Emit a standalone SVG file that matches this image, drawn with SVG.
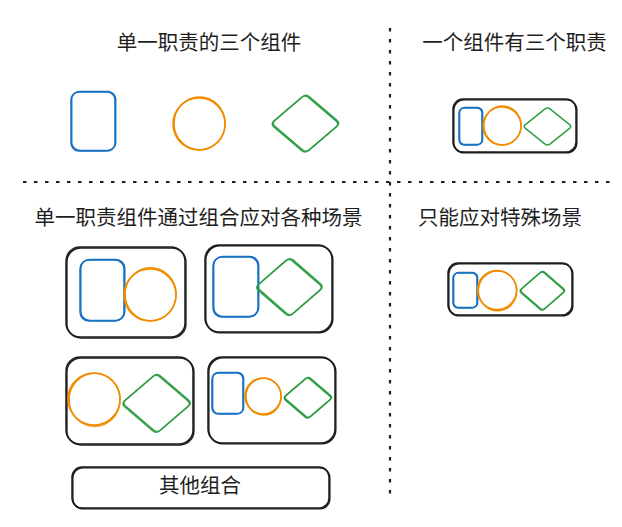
<svg xmlns="http://www.w3.org/2000/svg" xmlns:xlink="http://www.w3.org/1999/xlink" width="622" height="527" viewBox="0 0 622 527">
<style>
.k{fill:none;stroke:#1e1e1e;stroke-width:1.5;stroke-linejoin:round}
.b{fill:none;stroke:#1971c2;stroke-width:1.5;stroke-linejoin:round}
.o{fill:none;stroke:#f08c00;stroke-width:1.5}
.g{fill:none;stroke:#2f9e44;stroke-width:1.5;stroke-linejoin:round}
.t{font-family:"Noto Sans CJK SC","Noto Sans",sans-serif;font-size:20.5px;fill:#1e1e1e;text-anchor:middle}
.d{fill:none;stroke:#1e1e1e;stroke-width:2.2;stroke-dasharray:3.5 7.5}
</style>
<rect width="622" height="527" fill="#ffffff"/>
<g id="connectors">
<line class="d" x1="23" y1="182" x2="610" y2="182"/>
<line class="d" x1="390" y1="28" x2="390" y2="500"/>
</g>
<g id="labels">
<text class="t" x="209" y="50">单一职责的三个组件</text>
<text class="t" x="514.5" y="50">一个组件有三个职责</text>
<text class="t" x="198.5" y="225">单一职责组件通过组合应对各种场景</text>
<text class="t" x="500" y="225">只能应对特殊场景</text>
</g>
<g id="single-blue">
<rect id="s1" class="b" x="71" y="92" width="44" height="59" rx="8"/>
<use xlink:href="#s1" transform="translate(0.7 -0.6)"/>
</g>
<g id="single-orange">
<circle class="o" cx="199" cy="124" r="26"/>
<ellipse class="o" cx="199.6" cy="123.4" rx="25.6" ry="26.4"/>
</g>
<g id="single-green">
<path id="s3" class="g" d="M308.45,97.45 L336.05,121.05 Q339.5,124 336.05,126.95 L308.45,150.55 Q305,153.5 301.55,150.55 L273.95,126.95 Q270.5,124 273.95,121.05 L301.55,97.45 Q305,94.5 308.45,97.45Z"/>
<use xlink:href="#s3" transform="translate(0.9 -0.7)"/>
</g>
<g id="combined-all">
<rect id="c1" class="k" x="453" y="99" width="123" height="53" rx="10"/>
<use xlink:href="#c1" transform="translate(0.8 0.8)"/>
<rect id="c2" class="b" x="459" y="108" width="23" height="37" rx="5"/>
<use xlink:href="#c2" transform="translate(0.6 -0.5)"/>
<circle class="o" cx="502" cy="126" r="19"/>
<ellipse class="o" cx="502.5" cy="125.5" rx="18.6" ry="19.4"/>
<path class="g" d="M549.95,108.95 L569.55,124.55 Q572,126.5 569.55,128.45 L549.95,144.05 Q547.5,146 545.05,144.05 L525.45,128.45 Q523,126.5 525.45,124.55 L545.05,108.95 Q547.5,107 549.95,108.95Z"/>
</g>
<g id="special-only">
<rect id="p1" class="k" x="448" y="263" width="124" height="52" rx="10"/>
<use xlink:href="#p1" transform="translate(0.8 0.8)"/>
<rect id="p2" class="b" x="453" y="273" width="24" height="35" rx="5"/>
<use xlink:href="#p2" transform="translate(0.6 -0.5)"/>
<circle class="o" cx="497" cy="290" r="19.5"/>
<ellipse class="o" cx="497.6" cy="290.8" rx="19.2" ry="19.9"/>
<path id="p3" class="g" d="M544.3,273 L562.7,289 Q565,291 562.7,293 L544.3,309 Q542,311 539.7,309 L521.3,293 Q519,291 521.3,289 L539.7,273 Q542,271 544.3,273Z"/>
<use xlink:href="#p3" transform="translate(0.7 -0.5)"/>
</g>
<g id="combo-blue-orange">
<rect id="a1" class="k" x="66" y="247" width="119" height="90" rx="14"/>
<use xlink:href="#a1" transform="translate(0.9 0.9)"/>
<rect id="a2" class="b" x="80" y="260" width="44" height="61" rx="9"/>
<use xlink:href="#a2" transform="translate(0.8 -0.6)"/>
<circle class="o" cx="150" cy="295" r="26"/>
<ellipse class="o" cx="150.6" cy="294.2" rx="25.5" ry="26.5"/>
</g>
<g id="combo-blue-green">
<rect id="b1" class="k" x="205" y="245" width="127" height="87" rx="14"/>
<use xlink:href="#b1" transform="translate(0.8 0.8)"/>
<rect id="b2" class="b" x="213" y="257" width="45" height="60" rx="9"/>
<use xlink:href="#b2" transform="translate(0.7 -0.6)"/>
<path id="b3" class="g" d="M292.4,260.95 L319.6,284.55 Q323,287.5 319.6,290.45 L292.4,314.05 Q289,317 285.6,314.05 L258.4,290.45 Q255,287.5 258.4,284.55 L285.6,260.95 Q289,258 292.4,260.95Z"/>
<use xlink:href="#b3" transform="translate(0.9 -0.8)"/>
</g>
<g id="combo-orange-green">
<rect id="e1" class="k" x="66" y="357" width="127" height="87" rx="14"/>
<use xlink:href="#e1" transform="translate(0.9 0.9)"/>
<circle class="o" cx="94" cy="399" r="26"/>
<ellipse class="o" cx="94.6" cy="399.8" rx="25.5" ry="26.5"/>
<path id="e3" class="g" d="M160.5,376 L188.5,400 Q192,403 188.5,406 L160.5,430 Q157,433 153.5,430 L125.5,406 Q122,403 125.5,400 L153.5,376 Q157,373 160.5,376Z"/>
<use xlink:href="#e3" transform="translate(-0.8 0.7)"/>
</g>
<g id="combo-all-small">
<rect id="f1" class="k" x="208" y="357" width="127" height="86" rx="14"/>
<use xlink:href="#f1" transform="translate(0.8 0.8)"/>
<rect id="f2" class="b" x="212" y="373" width="31" height="41" rx="6"/>
<use xlink:href="#f2" transform="translate(0.6 -0.5)"/>
<circle class="o" cx="263" cy="396" r="18"/>
<ellipse class="o" cx="263.6" cy="396.6" rx="17.6" ry="18.4"/>
<path id="f3" class="g" d="M309.95,379.1 L329.55,395.9 Q332,398 329.55,400.1 L309.95,416.9 Q307.5,419 305.05,416.9 L285.45,400.1 Q283,398 285.45,395.9 L305.05,379.1 Q307.5,377 309.95,379.1Z"/>
<use xlink:href="#f3" transform="translate(0.8 -0.6)"/>
</g>
<g id="other-combos">
<rect id="h1" class="k" x="72" y="467" width="257" height="41" rx="10"/>
<use xlink:href="#h1" transform="translate(0.8 0.8)"/>
<text class="t" x="200" y="493">其他组合</text>
</g>
</svg>
